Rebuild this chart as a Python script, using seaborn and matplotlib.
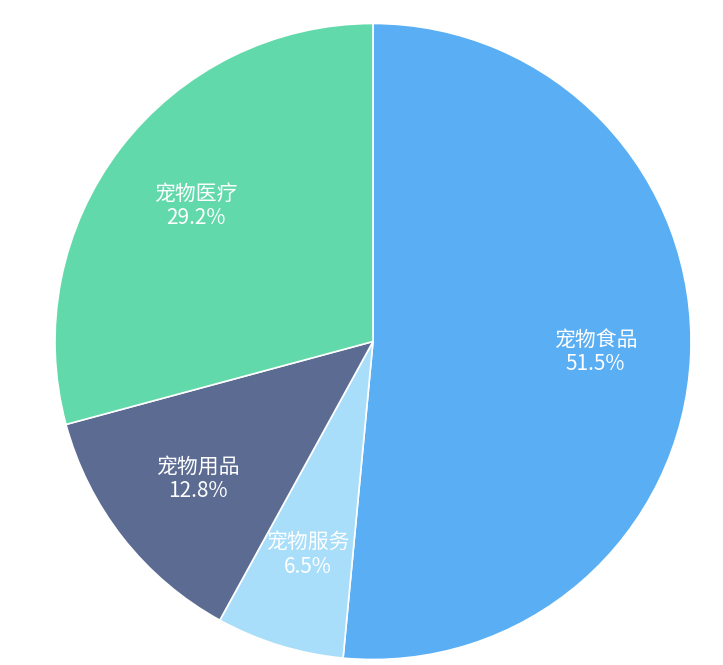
import numpy as np
import matplotlib
matplotlib.use("Agg")
import matplotlib.pyplot as plt
import seaborn as sns

# data
categories = ["宠物食品", "宠物服务", "宠物用品", "宠物医疗"]
shares = [51.5, 6.5, 12.8, 29.2]
colors = ["#5AAEF4", "#A8DEF9", "#5B6B92", "#62D9AB"]

sns.set_theme(style="white")
plt.rcParams['font.family'] = ['Noto Sans CJK SC', 'DejaVu Sans']

fig = plt.figure(figsize=(7.23, 6.65), dpi=100)
ax = fig.add_axes([0, 0, 1, 1])

cx, cy, r = 373, 665 - 341.5, 318
wedges, _ = ax.pie(shares, colors=colors, startangle=90, counterclock=False,
                   center=(cx, cy), radius=r, frame=True,
                   wedgeprops=dict(edgecolor='white', linewidth=1.2))
ax.set_xlim(0, 723)
ax.set_ylim(0, 665)
ax.set_aspect('equal')
ax.axis('off')

for w, name, val in zip(wedges, categories, shares):
    mid = np.deg2rad((w.theta1 + w.theta2) / 2)
    x = cx + 0.70 * r * np.cos(mid)
    y = cy + 0.70 * r * np.sin(mid)
    ax.text(x, y, f"{name}\n{val}%", ha='center', va='center',
            color='white', fontsize=15, linespacing=1.15)

fig.savefig("out.png", dpi=100)
